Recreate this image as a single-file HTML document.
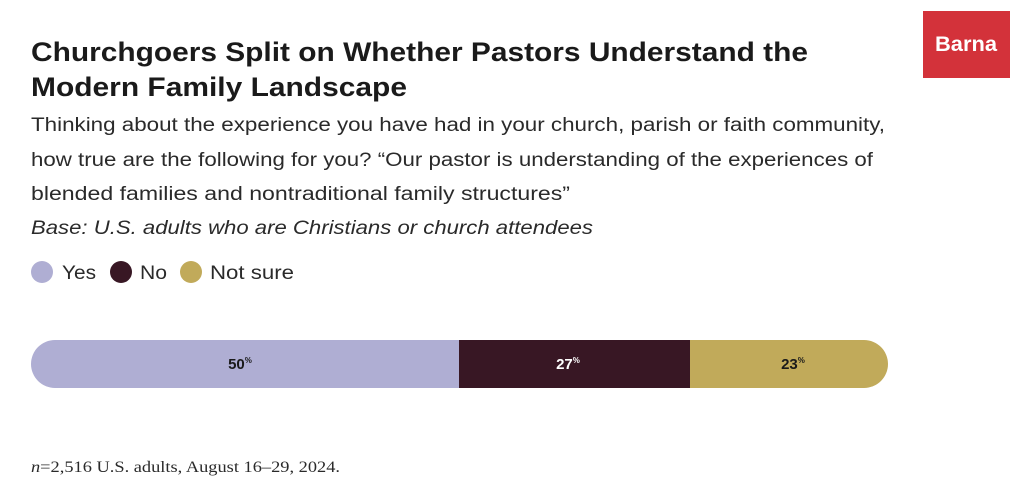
<!DOCTYPE html>
<html><head><style>body{margin:0;background:#fff}svg{display:block}</style></head><body>
<svg width="1024" height="493" xmlns="http://www.w3.org/2000/svg" font-family="Liberation Sans, sans-serif">
<rect width="1024" height="493" fill="#fff"/>
<rect x="923" y="11" width="87" height="67" fill="#d3323a"/>
<text x="966" y="51" font-size="21" font-weight="bold" fill="#fff" text-anchor="middle" textLength="62" lengthAdjust="spacingAndGlyphs">Barna</text>
<g fill="#1a1a1a" font-weight="bold" font-size="27">
<text x="31" y="61" textLength="777" lengthAdjust="spacingAndGlyphs">Churchgoers Split on Whether Pastors Understand the</text>
<text x="31" y="96" textLength="376" lengthAdjust="spacingAndGlyphs">Modern Family Landscape</text>
</g>
<g fill="#2a2a2a" font-size="19">
<text x="31" y="131" textLength="854" lengthAdjust="spacingAndGlyphs">Thinking about the experience you have had in your church, parish or faith community,</text>
<text x="31" y="166" textLength="842" lengthAdjust="spacingAndGlyphs">how true are the following for you? “Our pastor is understanding of the experiences of</text>
<text x="31" y="200" textLength="539" lengthAdjust="spacingAndGlyphs">blended families and nontraditional family structures”</text>
<text x="31" y="234" font-style="italic" textLength="562" lengthAdjust="spacingAndGlyphs">Base: U.S. adults who are Christians or church attendees</text>
</g>
<circle cx="42" cy="272" r="11" fill="#afaed3"/>
<circle cx="121" cy="272" r="11" fill="#381724"/>
<circle cx="191" cy="272" r="11" fill="#c1aa5a"/>
<g fill="#2a2a2a" font-size="19">
<text x="62" y="279" textLength="34" lengthAdjust="spacingAndGlyphs">Yes</text>
<text x="140" y="279" textLength="27" lengthAdjust="spacingAndGlyphs">No</text>
<text x="210" y="279" textLength="84" lengthAdjust="spacingAndGlyphs">Not sure</text>
</g>
<path d="M55 340 H459 V388 H55 A24 24 0 0 1 55 340 Z" fill="#afaed3"/>
<rect x="459" y="340" width="231" height="48" fill="#381724"/>
<path d="M690 340 H864 A24 24 0 0 1 864 388 H690 Z" fill="#c1aa5a"/>
<g font-weight="bold" font-size="15">
<text x="240" y="369" text-anchor="middle" fill="#1a1a1a">50<tspan font-size="8" dy="-6">%</tspan></text>
<text x="568" y="369" text-anchor="middle" fill="#fff">27<tspan font-size="8" dy="-6">%</tspan></text>
<text x="793" y="369" text-anchor="middle" fill="#1a1a1a">23<tspan font-size="8" dy="-6">%</tspan></text>
</g>
<text x="31" y="472" font-family="Liberation Serif, serif" font-size="16" fill="#2a2a2a" textLength="309" lengthAdjust="spacingAndGlyphs"><tspan font-style="italic">n</tspan>=2,516 U.S. adults, August 16–29, 2024.</text>
</svg>
</body></html>
